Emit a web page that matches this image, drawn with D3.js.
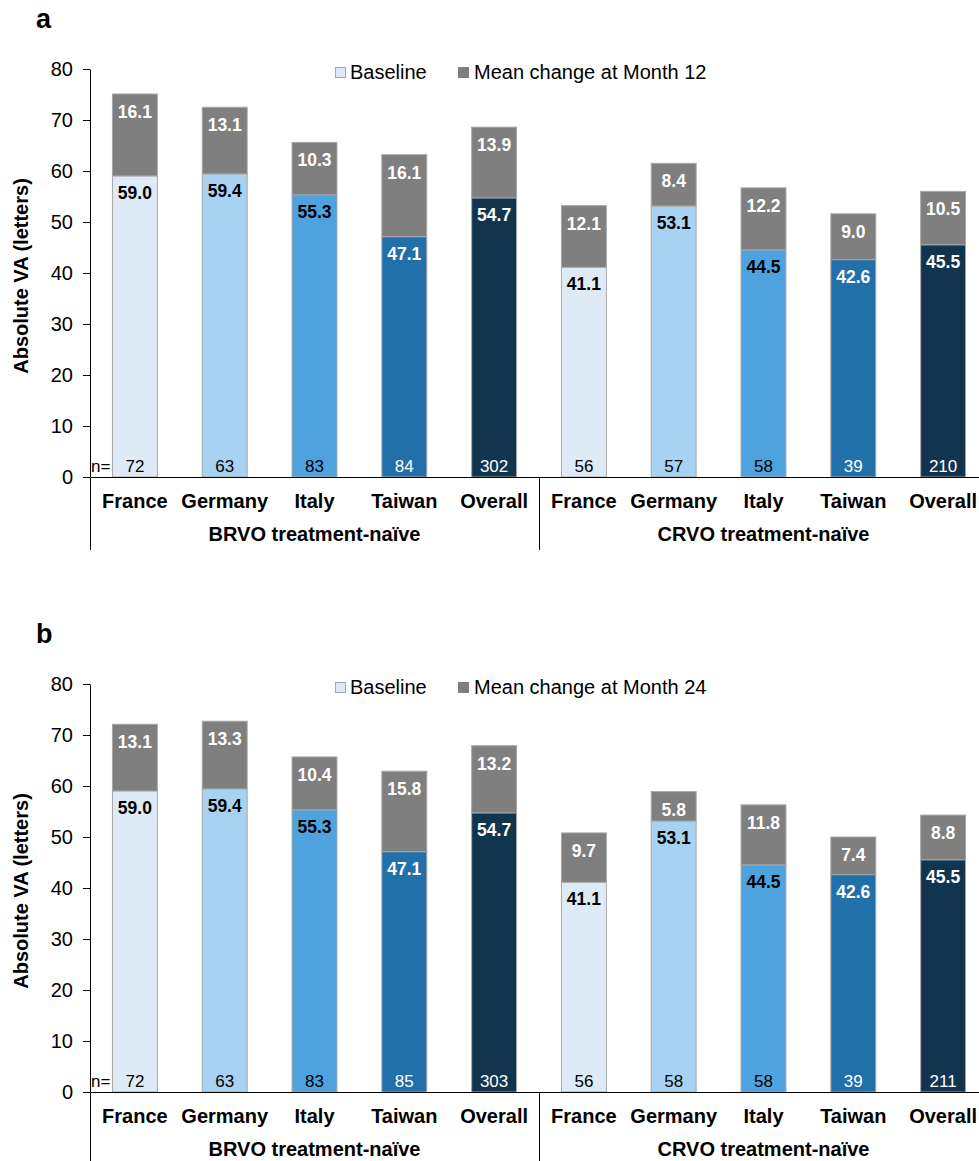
<!DOCTYPE html>
<html>
<head>
<meta charset="utf-8">
<script src="https://cdn.jsdelivr.net/npm/d3@7"></script>
<style>
  body { margin: 0; background: #fff; }
  svg { display: block; font-family: "Liberation Sans", Arial, sans-serif; }
</style>
</head>
<body>
<svg id="chart" width="979" height="1161"></svg>
<script>
// Groups and countries along the x axis
const groups = ["BRVO treatment-naïve", "CRVO treatment-naïve"];
const countries = ["France", "Germany", "Italy", "Taiwan", "Overall"];

// Baseline VA (letters), same for both panels
const baselineBRVO = [59.0, 59.4, 55.3, 47.1, 54.7];
const baselineCRVO = [41.1, 53.1, 44.5, 42.6, 45.5];

// Mean change at Month 12
const change12BRVO = [16.1, 13.1, 10.3, 16.1, 13.9];
const change12CRVO = [12.1, 8.4, 12.2, 9.0, 10.5];
const n12BRVO = [72, 63, 83, 84, 302];
const n12CRVO = [56, 57, 58, 39, 210];

// Mean change at Month 24
const change24BRVO = [13.1, 13.3, 10.4, 15.8, 13.2];
const change24CRVO = [9.7, 5.8, 11.8, 7.4, 8.8];
const n24BRVO = [72, 63, 83, 85, 303];
const n24CRVO = [56, 58, 58, 39, 211];

const yTicks = [0, 10, 20, 30, 40, 50, 60, 70, 80];

const countryColors = ["#deebf7", "#a8d2f1", "#4ea3df", "#2170aa", "#12354f"];
const baseLabelColors = ["#000", "#000", "#000", "#fff", "#fff"];
const changeColor = "#7f7f7f";

const panels = [
  { letter: "a", legend: "Mean change at Month 12", top: 0,
    base: [baselineBRVO, baselineCRVO], change: [change12BRVO, change12CRVO], n: [n12BRVO, n12CRVO] },
  { letter: "b", legend: "Mean change at Month 24", top: 615,
    base: [baselineBRVO, baselineCRVO], change: [change24BRVO, change24CRVO], n: [n24BRVO, n24CRVO] }
];

const svg = d3.select("#chart");
const axisLeftX = 90, axisRightX = 988;
const yTopPx = 69, yZeroPx = 477;

const x0 = d3.scaleBand().domain(groups).range([axisLeftX, axisRightX]).padding(0);
const x1 = d3.scaleBand().domain(countries).range([0, x0.bandwidth()])
  .paddingInner(0.5).paddingOuter(0.25);
const y = d3.scaleLinear().domain([0, 80]).range([yZeroPx, yTopPx]);

panels.forEach(p => {
  const g = svg.append("g").attr("transform", `translate(0,${p.top})`);

  // Panel letter
  g.append("text").attr("x", 36).attr("y", 28)
    .attr("font-size", 27).attr("font-weight", "bold").text(p.letter);

  // Y axis
  const yAxis = d3.axisLeft(y).tickValues(yTicks).tickSize(7).tickSizeOuter(0).tickPadding(10);
  const ya = g.append("g").attr("transform", `translate(${axisLeftX},0)`).call(yAxis);
  ya.selectAll("path, line").attr("stroke", "#000").attr("stroke-width", 1);
  ya.selectAll("text").attr("font-size", 20).attr("fill", "#000")
    .attr("font-family", "Liberation Sans, Arial, sans-serif");

  // Y axis title
  g.append("text")
    .attr("transform", `translate(28,${(yTopPx + yZeroPx) / 2 + 3}) rotate(-90)`)
    .attr("text-anchor", "middle").attr("font-size", 20).attr("font-weight", "bold")
    .text("Absolute VA (letters)");

  // Legend
  const lg = g.append("g");
  lg.append("rect").attr("x", 335.5).attr("y", 67.5).attr("width", 10).attr("height", 10)
    .attr("fill", countryColors[0]).attr("stroke", "#a6a6a6");
  lg.append("text").attr("x", 350).attr("y", 72).attr("dominant-baseline", "central")
    .attr("font-size", 20).text("Baseline");
  lg.append("rect").attr("x", 458).attr("y", 67).attr("width", 11).attr("height", 11)
    .attr("fill", changeColor);
  lg.append("text").attr("x", 474).attr("y", 72).attr("dominant-baseline", "central")
    .attr("font-size", 20).text(p.legend);

  groups.forEach((grp, gi) => {
    const gg = g.append("g").attr("transform", `translate(${x0(grp)},0)`);
    countries.forEach((c, ci) => {
      const b = p.base[gi][ci], ch = p.change[gi][ci];
      const bx = x1(c), bw = x1.bandwidth();
      // Change segment (stacked on top)
      gg.append("rect").attr("x", bx).attr("y", y(b + ch))
        .attr("width", bw).attr("height", y(b) - y(b + ch))
        .attr("fill", changeColor).attr("stroke", "#a6a6a6").attr("stroke-width", 1);
      // Baseline segment
      gg.append("rect").attr("x", bx).attr("y", y(b))
        .attr("width", bw).attr("height", y(0) - y(b))
        .attr("fill", countryColors[ci]).attr("stroke", "#a6a6a6").attr("stroke-width", 1);
      // Value labels
      gg.append("text").attr("x", bx + bw / 2).attr("y", y(b + ch) + 18)
        .attr("text-anchor", "middle").attr("dominant-baseline", "central")
        .attr("font-size", 17.5).attr("font-weight", "bold").attr("fill", "#fff")
        .text(ch.toFixed(1));
      gg.append("text").attr("x", bx + bw / 2).attr("y", y(b) + 17)
        .attr("text-anchor", "middle").attr("dominant-baseline", "central")
        .attr("font-size", 17.5).attr("font-weight", "bold").attr("fill", baseLabelColors[ci])
        .text(b.toFixed(1));
      // Sample size
      gg.append("text").attr("x", bx + bw / 2).attr("y", yZeroPx - 11)
        .attr("text-anchor", "middle").attr("dominant-baseline", "central")
        .attr("font-size", 17).attr("fill", baseLabelColors[ci])
        .text(p.n[gi][ci]);
      // Country label
      gg.append("text").attr("x", bx + bw / 2).attr("y", yZeroPx + 31)
        .attr("text-anchor", "middle")
        .attr("font-size", 20).attr("font-weight", "bold").text(c);
    });
    // Group label
    gg.append("text").attr("x", x0.bandwidth() / 2).attr("y", yZeroPx + 64)
      .attr("text-anchor", "middle")
      .attr("font-size", 20).attr("font-weight", "bold").text(grp);
  });

  // "n=" prefix
  g.append("text").attr("x", 91).attr("y", yZeroPx - 11)
    .attr("dominant-baseline", "central").attr("font-size", 17).text("n=");

  // X axis baseline and group separators
  g.append("line").attr("x1", axisLeftX).attr("x2", axisRightX)
    .attr("y1", yZeroPx + 0.5).attr("y2", yZeroPx + 0.5).attr("stroke", "#000");
  [axisLeftX, x0(groups[1]), axisRightX].forEach(xv => {
    g.append("line").attr("x1", Math.round(xv) + 0.5).attr("x2", Math.round(xv) + 0.5)
      .attr("y1", yZeroPx).attr("y2", yZeroPx + 73).attr("stroke", "#000");
  });
});
</script>
</body>
</html>
